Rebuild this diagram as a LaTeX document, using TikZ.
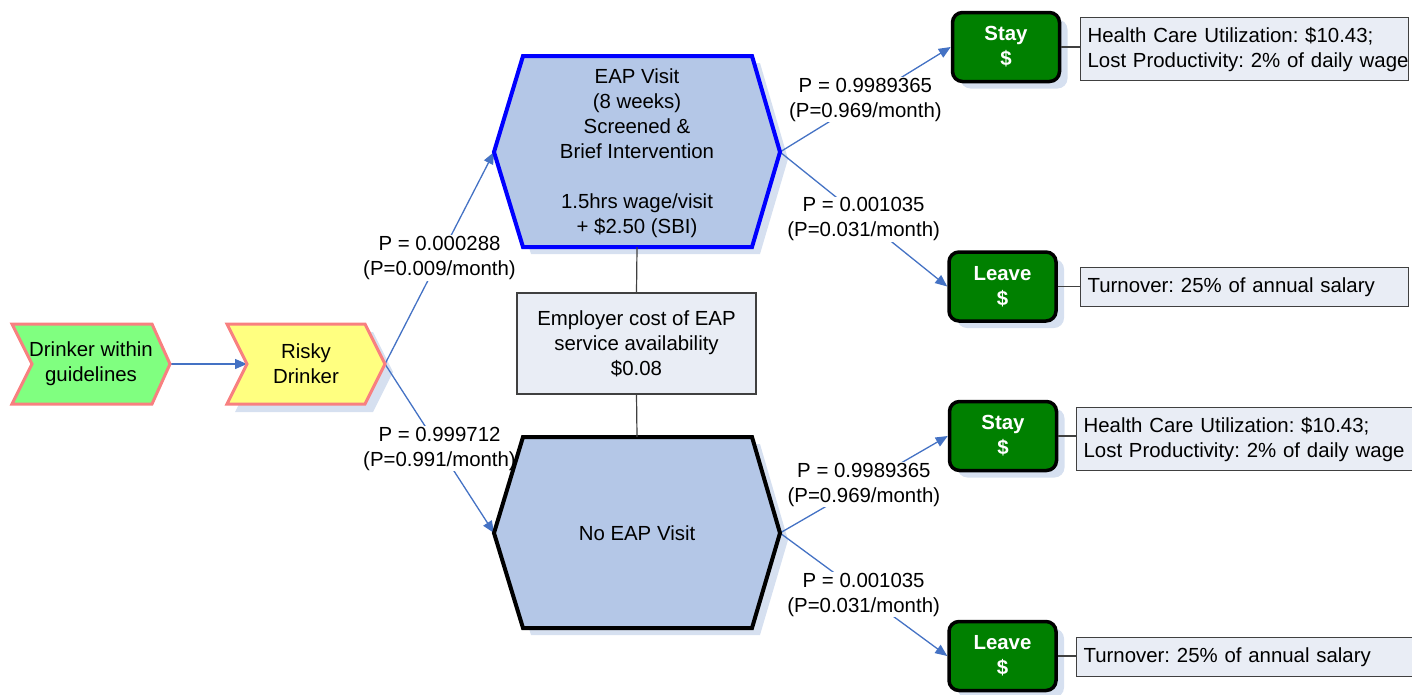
\documentclass[tikz,border=0pt]{standalone}
\usepackage{fontspec}
\setmainfont{Liberation Sans}
\usetikzlibrary{arrows.meta,shadows}
\definecolor{edgeblue}{RGB}{68,114,196}
\definecolor{shadowc}{RGB}{214,224,240}
\definecolor{hexfill}{RGB}{180,199,231}
\definecolor{chevborder}{RGB}{248,128,128}
\definecolor{lgreen}{RGB}{128,255,128}
\definecolor{lyellow}{RGB}{255,255,128}
\definecolor{infofill}{RGB}{233,237,245}
\definecolor{darkg}{RGB}{0,128,0}
\definecolor{linegray}{RGB}{64,64,64}
\newcommand\diagfont{\fontsize{20.4}{25}\selectfont\frenchspacing}
\frenchspacing
\begin{document}
\begin{tikzpicture}[x=1pt,y=-1pt,
  txt/.style={font=\diagfont, align=center, inner sep=0pt},
  edge/.style={draw=edgeblue, line width=1.3pt, -{Triangle[length=12pt,width=10pt]}},
  plabel/.style={font=\diagfont, align=center, fill=white, inner sep=1pt},
  chev/.style={draw=chevborder, line width=3pt},
  hexshape/.style={fill=hexfill, line width=4pt},
  shad/.style={fill=shadowc},
  outcome/.style={draw=black, fill=darkg, line width=3.5pt, rounded corners=10pt,
    minimum width=107pt, minimum height=69pt, font=\diagfont\bfseries, text=white, align=center,
    drop shadow={shadow xshift=8pt, shadow yshift=-7pt, fill=shadowc, opacity=1, draw=none}},
  info/.style={draw=linegray, fill=infofill, line width=1.2pt, font=\diagfont, align=left,
    anchor=north west, inner xsep=7pt, inner ysep=0pt},
  conn/.style={draw=linegray, line width=1.2pt}]
\useasboundingbox (0,0) rectangle (1412,694);

% key points
\coordinate (drinkerE) at (170,364);
\coordinate (riskyW) at (247,364);
\coordinate (riskyE) at (385,364);
\coordinate (eapW) at (494,152);
\coordinate (eapE) at (780,152);
\coordinate (eapS) at (637,247);
\coordinate (noeapW) at (494,533);
\coordinate (noeapE) at (780,533);
\coordinate (noeapN) at (637,437);

% shadows
\path[shad] (235,332) -- (373,332) -- (393,372) -- (373,412) -- (235,412) -- (255,372) -- cycle;
\path[shad] (531,63) -- (760,63) -- (788,159) -- (760,254) -- (531,254) -- (502,159) -- cycle;
\path[shad] (531,444) -- (760,444) -- (788,540) -- (760,635) -- (531,635) -- (502,540) -- cycle;

% outcome nodes
\node[outcome] (stay1) at (1006,47) {Stay\\\$};
\node[outcome] (leave1) at (1002.5,286.5) {Leave\\\$};
\node[outcome] (stay2) at (1003,436) {Stay\\\$};
\node[outcome] (leave2) at (1002.5,656) {Leave\\\$};

% info boxes
\node[info, minimum height=63pt, text width=314pt] (i1) at (1080,17)
  {\mbox{Health Care Utilization: \$10.43;}\\\mbox{Lost Productivity: 2\% of daily wage}};
\node[info, minimum height=39pt, text width=314pt] (i2) at (1080,267)
  {\mbox{Turnover: 25\% of annual salary}};
\node[info, minimum height=63pt, text width=326pt] (i3) at (1076,407)
  {\mbox{Health Care Utilization: \$10.43;}\\\mbox{Lost Productivity: 2\% of daily wage}};
\node[info, minimum height=39pt, text width=326pt] (i4) at (1076,637)
  {\mbox{Turnover: 25\% of annual salary}};

\draw[conn] (stay1.east) -- (stay1.east -| i1.west);
\draw[conn] (leave1.east) -- (leave1.east -| i2.west);
\draw[conn] (stay2.east) -- (stay2.east -| i3.west);
\draw[conn] (leave2.east) -- (leave2.east -| i4.west);

% edges
\draw[edge] (drinkerE) -- (riskyW);
\draw[edge] (riskyE) -- node[plabel] {P = 0.000288\\(P=0.009/month)} (eapW);
\draw[edge] (riskyE) -- node[plabel] {P = 0.999712\\(P=0.991/month)} (noeapW);
\draw[edge] (eapE) -- node[plabel] {P = 0.9989365\\(P=0.969/month)} (stay1.west);
\draw[edge] (eapE) -- node[plabel] {P = 0.001035\\(P=0.031/month)} (leave1.west);
\draw[edge] (noeapE) -- node[plabel] {P = 0.9989365\\(P=0.969/month)} (stay2.west);
\draw[edge] (noeapE) -- node[plabel] {P = 0.001035\\(P=0.031/month)} (leave2.west);

% chevrons
\path[chev, fill=lgreen] (12,324) -- (152,324) -- (drinkerE) -- (152,404) -- (12,404) -- (32,364) -- cycle;
\path[chev, fill=lyellow] (227,324) -- (365,324) -- (riskyE) -- (365,404) -- (227,404) -- (riskyW) -- cycle;
\node[txt] (drinker) at (91,364) {Drinker within\\guidelines};
\node[txt] (risky) at (306,364) {Risky\\Drinker};

% hexagons
\path[hexshape, draw=blue] (523,56) -- (752,56) -- (eapE) -- (752,247) -- (523,247) -- (eapW) -- cycle;
\path[hexshape, draw=black] (523,437) -- (752,437) -- (noeapE) -- (752,628) -- (523,628) -- (noeapW) -- cycle;
\node[txt] (eap) at (637,153) {EAP Visit\\(8 weeks)\\Screened \&\\Brief Intervention\\[25pt]1.5hrs wage/visit\\+ \$2.50 (SBI)};
\node[txt] (noeap) at (637,533) {No EAP Visit};

% employer cost box
\node[txt, draw=linegray, fill=infofill, line width=1.2pt, minimum width=239pt, minimum height=101pt]
  (emp) at (636.5,343.5) {Employer cost of EAP\\service availability\\\$0.08};
\draw[conn] (eapS) -- (emp.north);
\draw[conn] (emp.south) -- (noeapN);
\end{tikzpicture}
\end{document}
